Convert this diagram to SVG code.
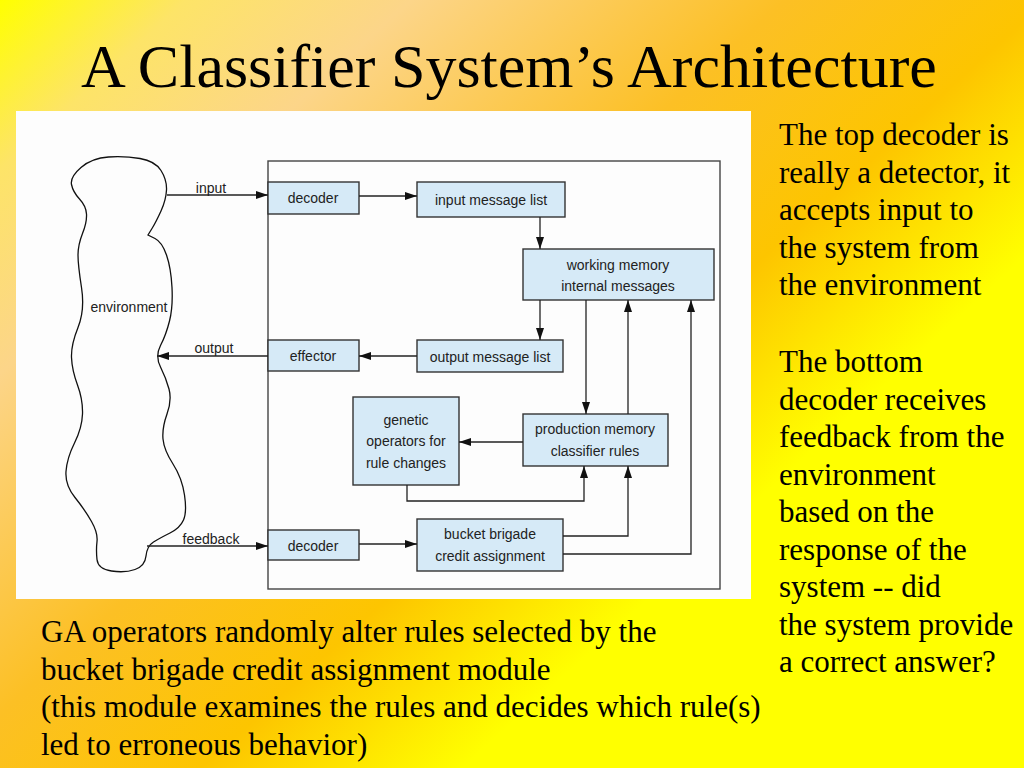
<svg xmlns="http://www.w3.org/2000/svg" width="1024" height="768" viewBox="0 0 1024 768">
<defs>
<linearGradient id="bg" gradientUnits="userSpaceOnUse" x1="0" y1="0" x2="845" y2="930">
<stop offset="0" stop-color="#ffff00"/>
<stop offset="0.1" stop-color="#fde468"/>
<stop offset="0.22" stop-color="#fcd589"/>
<stop offset="0.42" stop-color="#fcc025"/>
<stop offset="0.56" stop-color="#fdc500"/>
<stop offset="0.7" stop-color="#ffff00"/>
<stop offset="1" stop-color="#ffff00"/>
</linearGradient>
<marker id="ah" markerWidth="12" markerHeight="8" refX="12" refY="4" orient="auto" markerUnits="userSpaceOnUse">
<path d="M0,0 L12,4 L0,8 z" fill="#111"/>
</marker>
<style>
.box{fill:#d6eaf7;stroke:#333;stroke-width:1.4}
.frame{fill:none;stroke:#444;stroke-width:1.4}
.lbl{font-family:"Liberation Sans",Arial,Helvetica,sans-serif;font-size:14px;fill:#222;text-anchor:middle}
.con{stroke:#222;stroke-width:1.3;fill:none}
.arr{marker-end:url(#ah)}
.body{font-family:"Liberation Serif","Times New Roman",serif;font-size:31px;fill:#000}
.title{font-family:"Liberation Serif","Times New Roman",serif;font-size:62px;fill:#000}
</style>
</defs>
<rect x="0" y="0" width="1024" height="768" fill="url(#bg)"/>
<text class="title" x="81" y="87">A Classifier System’s Architecture</text>
<rect x="16" y="111" width="735" height="488" fill="#fdfdfd"/>
<rect class="frame" x="268" y="161" width="452" height="428"/>

<g id="environment">
<path d="M81,167.5 Q92,158 108.5,157 Q125,156 140,158.5 Q155,161 161,170.5 Q167,180 166.5,190 Q166,200 161,211 Q156,222 152,228.5 L148,235 L155,238.5 Q162,242 166.5,255 Q171,268 172,287.5 Q173,307 169.5,321 Q166,335 160.5,345.5 Q155,356 160.5,367 Q166,378 169,389 Q172,400 167,414 Q162,428 163,439 Q164,450 173,464 Q182,478 184.5,495 Q187,512 183.5,520 Q180,528 170,533 Q160,538 153.5,542 Q147,546 146,556 Q145,566 135,569.5 Q125,573 111.5,571 Q98,569 97,559.5 Q96,550 97,541.5 Q98,533 91.5,521.5 Q85,510 75,497.5 Q65,485 66,471.5 Q67,458 74.5,443 Q82,428 82.5,414 Q83,400 77.5,385 Q72,370 71.5,357.5 Q71,345 78,327.5 Q85,310 81.5,287.5 Q78,265 78,255 Q78,245 82.5,233.5 Q87,222 86.5,214 Q86,206 79.5,199 Q73,192 71.5,184.5 Q70,177 81,167.5 Z" fill="none" stroke="#111" stroke-width="1.3"/>
<text class="lbl" x="129" y="312">environment</text>
</g>

<g id="decoder-top">
<rect class="box" x="268" y="182" width="91" height="32"/>
<text class="lbl" x="313" y="203">decoder</text>
</g>
<g id="input-message-list">
<rect class="box" x="417" y="182" width="148" height="35"/>
<text class="lbl" x="491" y="205">input message list</text>
</g>
<g id="working-memory">
<rect class="box" x="523" y="249" width="191" height="51"/>
<text class="lbl" x="618" y="270">working memory</text>
<text class="lbl" x="618" y="291">internal messages</text>
</g>
<g id="effector">
<rect class="box" x="268" y="340" width="91" height="31"/>
<text class="lbl" x="313" y="361">effector</text>
</g>
<g id="output-message-list">
<rect class="box" x="417" y="340" width="146" height="32"/>
<text class="lbl" x="490" y="362">output message list</text>
</g>
<g id="genetic-operators">
<rect class="box" x="353" y="397" width="106" height="88"/>
<text class="lbl" x="406" y="425">genetic</text>
<text class="lbl" x="406" y="446">operators for</text>
<text class="lbl" x="406" y="468">rule changes</text>
</g>
<g id="production-memory">
<rect class="box" x="523" y="414" width="145" height="52"/>
<text class="lbl" x="595" y="434">production memory</text>
<text class="lbl" x="595" y="456">classifier rules</text>
</g>
<g id="decoder-bottom">
<rect class="box" x="268" y="530" width="91" height="30"/>
<text class="lbl" x="313" y="551">decoder</text>
</g>
<g id="bucket-brigade">
<rect class="box" x="417" y="519" width="146" height="52"/>
<text class="lbl" x="490" y="539">bucket brigade</text>
<text class="lbl" x="490" y="561">credit assignment</text>
</g>

<g id="connectors">
<path class="con arr" d="M167,195 L268,195"/>
<text class="lbl" x="211" y="193">input</text>
<path class="con arr" d="M359,196 L417,196"/>
<path class="con arr" d="M540,217 L540,249"/>
<path class="con arr" d="M540,300 L540,340"/>
<path class="con arr" d="M417,356 L359,356"/>
<path class="con arr" d="M268,356 L157,356"/>
<text class="lbl" x="214" y="353">output</text>
<path class="con arr" d="M586,300 L586,414"/>
<path class="con arr" d="M628,414 L628,300"/>
<path class="con arr" d="M563,554 L691,554 L691,300"/>
<path class="con arr" d="M523,442 L459,442"/>
<path class="con arr" d="M407,485 L407,501 L584,501 L584,466"/>
<path class="con arr" d="M563,536 L628,536 L628,466"/>
<path class="con arr" d="M147,546 L268,546"/>
<text class="lbl" x="211" y="544">feedback</text>
<path class="con arr" d="M359,544 L417,544"/>
</g>

<g id="notes">
<text class="body" x="779" y="145">The top decoder is</text>
<text class="body" x="779" y="182.5">really a detector, it</text>
<text class="body" x="779" y="220">accepts input to</text>
<text class="body" x="779" y="257.5">the system from</text>
<text class="body" x="779" y="295">the environment</text>
<text class="body" x="779" y="372">The bottom</text>
<text class="body" x="779" y="409.5">decoder receives</text>
<text class="body" x="779" y="447">feedback from the</text>
<text class="body" x="779" y="484.5">environment</text>
<text class="body" x="779" y="522">based on the</text>
<text class="body" x="779" y="559.5">response of the</text>
<text class="body" x="779" y="597">system -- did</text>
<text class="body" x="779" y="634.5">the system provide</text>
<text class="body" x="779" y="672">a correct answer?</text>
<text class="body" x="41" y="642">GA operators randomly alter rules selected by the</text>
<text class="body" x="41" y="679.5">bucket brigade credit assignment module</text>
<text class="body" x="41" y="717">(this module examines the rules and decides which rule(s)</text>
<text class="body" x="41" y="754.5">led to erroneous behavior)</text>
</g>
</svg>
